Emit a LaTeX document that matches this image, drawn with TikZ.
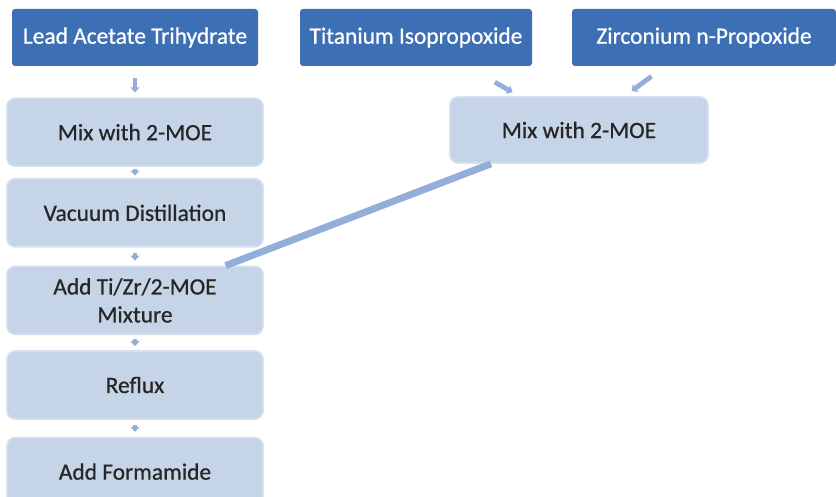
\documentclass[tikz,border=0pt]{standalone}
\usepackage{fontspec}
\setmainfont{Carlito}
\newfontface\boxfont{Carlito}[FakeBold=0.7]
\usetikzlibrary{positioning,arrows.meta}
\definecolor{srcblue}{HTML}{3D6FB5}
\definecolor{stepfill}{HTML}{C6D4E8}
\definecolor{stepline}{HTML}{D6E0EF}
\definecolor{flowblue}{HTML}{93AED8}

\begin{document}
\begin{tikzpicture}[
      node distance=7.5pt,
      every node/.style={font=\boxfont\fontsize{11.7}{14}\selectfont},
      source/.style={
        rounded corners=1.5pt,
        fill=srcblue,
        text=white,
        minimum height=28.5pt,
        align=center
      },
      stepbox/.style={
        rounded corners=4pt,
        draw=stepline,
        fill=stepfill,
        line width=0.8pt,
        text=black!85,
        minimum width=128pt,
        minimum height=34pt,
        align=center
      },
      arrow/.style={-{Triangle[width=4.5pt,length=2.5pt]}, line width=2.4pt, draw=flowblue},
      feed/.style={line width=3.5pt, draw=flowblue}
    ]
      \useasboundingbox (0pt,0pt) rectangle (418pt,-248.5pt);
      % starting materials
      \node[source, minimum width=123pt] (lead) at (67.5pt,-18.75pt) {Lead Acetate Trihydrate};
      \node[source, minimum width=116pt] (ti) at (208pt,-18.75pt) {Titanium Isopropoxide};
      \node[source, minimum width=132pt] (zr) at (352pt,-18.75pt) {Zirconium n-Propoxide};
      % lead column
      \node[stepbox, below=15.5pt of lead] (mixl) {Mix with 2-MOE};
      \node[stepbox, below=5.5pt of mixl] (vac) {Vacuum Distillation};
      \node[stepbox, below=9pt of vac] (add) {Add Ti/Zr/2-MOE\\Mixture};
      \node[stepbox, below=of add] (reflux) {Reflux};
      \node[stepbox, below=8.5pt of reflux] (form) {Add Formamide};
      % Ti/Zr branch
      \node[stepbox, minimum width=129pt, minimum height=33pt] (mixr) at (289.5pt,-65pt) {Mix with 2-MOE};
      \draw[arrow, shorten <=6pt, shorten >=2.5pt] (lead) -- (mixl);
      \draw[arrow, shorten <=1.2pt, shorten >=1.2pt] (mixl) -- (vac);
      \draw[arrow, shorten <=2.5pt, shorten >=2.5pt] (vac) -- (add);
      \draw[arrow, shorten <=2pt, shorten >=2pt] (add) -- (reflux);
      \draw[arrow, shorten <=2.5pt, shorten >=2.5pt] (reflux) -- (form);
      \draw[arrow, shorten <=16pt, shorten >=4pt] (ti) -- (mixr);
      \draw[arrow, shorten <=8.4pt, shorten >=4.3pt] (zr) -- (mixr);
      \draw[feed] (mixr) -- (add);
    \end{tikzpicture}
\end{document}
